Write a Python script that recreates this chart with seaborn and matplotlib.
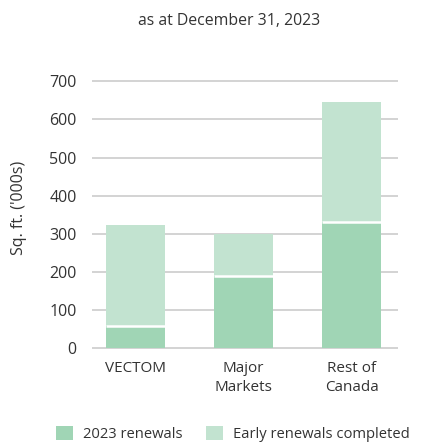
import matplotlib
matplotlib.use("Agg")
import matplotlib.pyplot as plt
from matplotlib.patches import Patch
import seaborn as sns
import pandas as pd

# Leasing renewals by region, in thousands of square feet
regions = ["VECTOM", "Major\nMarkets", "Rest of\nCanada"]
renewals_2023 = [60, 190, 330]
early_renewals = [263, 110, 315]
y_ticks = [0, 100, 200, 300, 400, 500, 600, 700]

dark_green = "#a0d5b5"
light_green = "#c2e3d0"
text_color = "#333333"

sns.set_theme(style="white")
plt.rcParams["font.family"] = ["Open Sans", "DejaVu Sans"]

df = pd.DataFrame({
    "region": regions,
    "renewals": renewals_2023,
    "early": early_renewals,
})
df["total"] = df["renewals"] + df["early"]

fig = plt.figure(figsize=(4.22, 4.42), dpi=100)
ax = fig.add_axes([0.218, 0.209, 0.725, 0.610])

# Full stack height in the lighter shade, 2023 renewals drawn over the base
sns.barplot(data=df, x="region", y="total", color=light_green, saturation=1,
            width=0.546, linewidth=0, ax=ax, zorder=3)
sns.barplot(data=df, x="region", y="renewals", color=dark_green, saturation=1,
            width=0.546, linewidth=0, ax=ax, zorder=4)

# thin white divider between the two segments of each stack
for bar in ax.patches[len(regions):]:
    ax.hlines(bar.get_height(), bar.get_x(), bar.get_x() + bar.get_width(),
              color="white", linewidth=1.8, zorder=5)

ax.set_xlim(-0.403, 2.43)
ax.set_ylim(-3, 703)
ax.set_yticks(y_ticks)
ax.yaxis.grid(True, color="#c8c8c8", linewidth=1.1, zorder=0)
ax.set_axisbelow(True)
for s in ax.spines.values():
    s.set_visible(False)
ax.tick_params(axis="y", length=0, pad=11, labelsize=11.5, labelcolor=text_color)
ax.tick_params(axis="x", length=0, pad=8.5, labelsize=11, labelcolor=text_color)
for lbl in ax.get_xticklabels():
    lbl.set_linespacing(1.35)
ax.set_xlabel("")
ax.set_ylabel("Sq. ft. ('000s)", fontsize=11.5, color=text_color)
ax.yaxis.set_label_coords(-0.213, 0.525)

fig.text(0.543, 1 - 21 / 442, "as at December 31, 2023", ha="center", va="center",
         fontsize=11.4, color=text_color)

handles = [Patch(facecolor=dark_green, edgecolor="none", label="2023 renewals"),
           Patch(facecolor=light_green, edgecolor="none", label="Early renewals completed")]
fig.legend(handles=handles, loc="center", bbox_to_anchor=(0.552, 1 - 434 / 442),
           ncol=2, frameon=False, fontsize=10.6, handlelength=1.15, handleheight=1.1,
           handletextpad=0.7, columnspacing=1.6, labelcolor=text_color)

fig.savefig("out.png", dpi=100)
